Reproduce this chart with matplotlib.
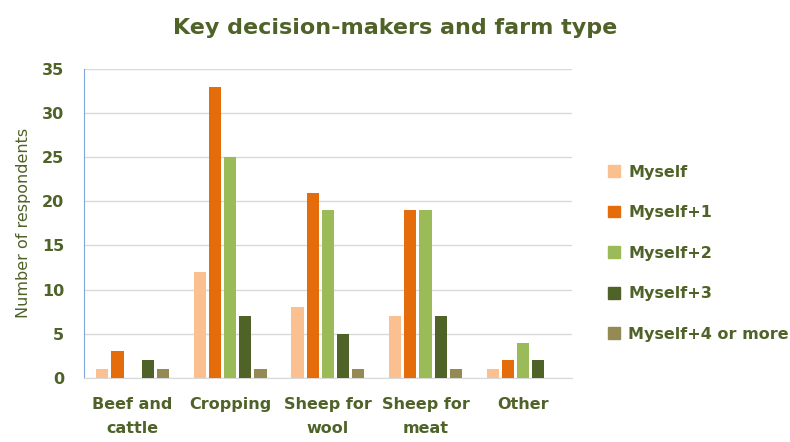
import numpy as np
from matplotlib import pyplot as plt
from matplotlib.patches import Patch

categories = ["Beef and\ncattle", "Cropping", "Sheep for\nwool", "Sheep for\nmeat", "Other"]
series_names = ["Myself", "Myself+1", "Myself+2", "Myself+3", "Myself+4 or more"]
myself = [1, 12, 8, 7, 1]
myself_1 = [3, 33, 21, 19, 2]
myself_2 = [0, 25, 19, 19, 4]
myself_3 = [2, 7, 5, 7, 2]
myself_4 = [1, 1, 1, 1, 0]
colors = ["#FAC090", "#E46C0A", "#9BBB59", "#4F6228", "#948A54"]

TEXT = "#4F6228"

fig = plt.figure(figsize=(7.9, 4.42), dpi=100)
ax = fig.add_axes([0.106, 0.145, 0.618, 0.699])

x = np.arange(len(categories))
slot = 0.155
width = 0.125
for i, (vals, name) in enumerate(zip([myself, myself_1, myself_2, myself_3, myself_4], series_names)):
    ax.bar(x + (i - 2) * slot, vals, width=width, color=colors[i], label=name, zorder=3)

ax.set_xlim(-0.5, len(categories) - 0.5)
ax.set_ylim(0, 35)
ax.set_yticks(range(0, 36, 5))
ax.grid(axis="y", color="#D9D9D9", linewidth=1, zorder=0)
ax.set_xticks(x)
ax.set_xticklabels(categories, fontsize=11.5, fontweight="bold", color=TEXT, linespacing=1.75)
ax.tick_params(axis="y", labelsize=11.5, labelcolor=TEXT, length=0, pad=14)
ax.tick_params(axis="x", length=0, pad=14)
for lbl in ax.get_yticklabels():
    lbl.set_fontweight("bold")

for s in ["top", "right"]:
    ax.spines[s].set_visible(False)
ax.spines["left"].set_color("#7FA7D9")
ax.spines["bottom"].set_color("#D9D9D9")

ax.set_ylabel("Number of respondents", fontsize=11.5, color=TEXT, labelpad=8)
fig.suptitle("Key decision-makers and farm type", fontsize=16, fontweight="bold", color=TEXT, y=0.96)

handles = [Patch(color=c) for c in colors]
leg = fig.legend(handles, series_names, loc="upper left", bbox_to_anchor=(0.752, 0.66),
                 frameon=False, handlelength=0.75, handleheight=0.75, handletextpad=0.5,
                 labelspacing=1.6, prop={"size": 11.5, "weight": "bold"})
for t in leg.get_texts():
    t.set_color(TEXT)

fig.savefig("out.png", dpi=100)
